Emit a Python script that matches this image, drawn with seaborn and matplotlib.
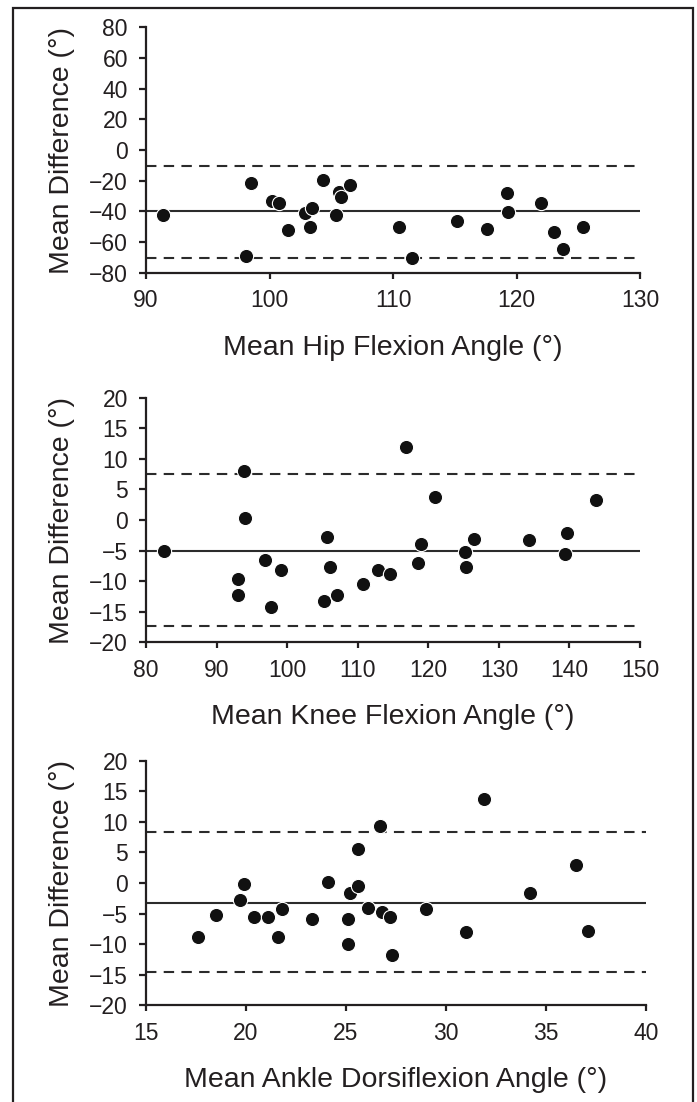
import matplotlib
matplotlib.use("Agg")
import matplotlib.pyplot as plt
from matplotlib.patches import Rectangle
import seaborn as sns
import pandas as pd

# --- Data ---
hip_mean = [91.4, 98.5, 98.1, 100.2, 100.8, 101.5, 102.9, 103.4, 103.3, 104.3, 105.4, 105.6,
            105.8, 106.5, 110.5, 111.5, 115.2, 117.6, 119.2, 119.3, 122.0, 123.0, 123.8, 125.4]
hip_diff = [-42.4, -21.7, -69.1, -33.0, -34.8, -52.2, -41.3, -38.0, -50.0, -19.8, -42.4, -27.2,
            -30.4, -22.8, -50.0, -70.2, -46.3, -51.3, -27.8, -40.7, -34.6, -53.3, -64.8, -50.2]
hip_lines = [-40.0, -10.4, -70.2]  # bias, upper LoA, lower LoA

knee_mean = [82.5, 93.0, 93.0, 93.9, 94.0, 96.9, 97.7, 99.1, 105.2, 105.7, 106.0, 107.0, 110.7,
             112.8, 114.5, 116.9, 118.5, 119.0, 121.0, 125.2, 125.3, 126.5, 134.3, 139.7, 139.4, 143.7]
knee_diff = [-5.1, -9.6, -12.3, 8.0, 0.3, -6.5, -14.3, -8.2, -13.3, -2.7, -7.7, -12.2, -10.5,
             -8.2, -8.9, 11.9, -7.0, -4.0, 3.8, -5.3, -7.7, -3.1, -3.2, -2.2, -5.6, 3.3]
knee_lines = [-5.0, 7.5, -17.4]

ankle_mean = [17.6, 18.5, 19.7, 19.9, 20.4, 21.1, 21.6, 21.8, 23.3, 24.1, 25.1, 25.1, 25.2,
              25.6, 25.6, 26.1, 26.7, 26.8, 27.2, 27.3, 29.0, 31.0, 31.9, 34.2, 36.5, 37.1]
ankle_diff = [-8.9, -5.3, -2.8, -0.1, -5.5, -5.6, -8.8, -4.3, -5.8, 0.2, -5.8, -9.9, -1.7,
              5.5, -0.5, -4.1, 9.4, -4.8, -5.6, -11.8, -4.2, -8.0, 13.8, -1.6, 3.0, -7.9]
ankle_lines = [-3.2, 8.3, -14.6]

panels = [
    ("Mean Hip Flexion Angle (°)", hip_mean, hip_diff, hip_lines,
     (90, 130), range(90, 131, 10), (-80, 80), range(-80, 81, 20)),
    ("Mean Knee Flexion Angle (°)", knee_mean, knee_diff, knee_lines,
     (80, 150), range(80, 151, 10), (-20, 20), range(-20, 21, 5)),
    ("Mean Ankle Dorsiflexion Angle (°)", ankle_mean, ankle_diff, ankle_lines,
     (15, 40), range(15, 41, 5), (-20, 20), range(-20, 21, 5)),
]

# --- Style ---
sns.set_style("ticks")
dark = "#231f20"
plt.rcParams["font.family"] = ["Liberation Sans", "DejaVu Sans"]
plt.rcParams.update({
    "axes.edgecolor": dark,
    "axes.linewidth": 1.6,
    "xtick.color": dark,
    "ytick.color": dark,
    "xtick.major.width": 1.6,
    "ytick.major.width": 1.6,
    "xtick.major.size": 4.5,
    "ytick.major.size": 5,
    "xtick.major.pad": 7.5,
    "ytick.major.pad": 8,
    "xtick.direction": "out",
    "ytick.direction": "out",
    "xtick.labelsize": 16.5,
    "ytick.labelsize": 16.5,
    "text.color": dark,
    "axes.labelcolor": dark,
})

fig = plt.figure(figsize=(6.97, 11.02), dpi=100)

# axes boxes in figure fractions [left, bottom, width, height]
boxes = [
    [0.2095, 0.7525, 0.7088, 0.2227],
    [0.2095, 0.4171, 0.7088, 0.2220],
    [0.2095, 0.0877, 0.7174, 0.2220],
]

for box, (xlab, xs, ys, lines, xlim, xt, ylim, yt) in zip(boxes, panels):
    ax = fig.add_axes(box)
    df = pd.DataFrame({"mean": xs, "diff": ys})
    bias, upper, lower = lines
    ax.axhline(bias, color="#2b2b2b", lw=1.5, zorder=1)
    ax.axhline(upper, color="#2b2b2b", lw=1.5, ls=(0, (5, 3.5)), zorder=1)
    ax.axhline(lower, color="#2b2b2b", lw=1.5, ls=(0, (5, 3.5)), zorder=1)
    sns.scatterplot(data=df, x="mean", y="diff", ax=ax, color="#111111",
                    s=105, edgecolor="white", linewidth=0.8, zorder=3, legend=False)
    ax.set_xlim(*xlim)
    ax.set_ylim(*ylim)
    ax.set_xticks(list(xt))
    ax.set_yticks(list(yt))
    ax.set_xlabel(xlab, fontsize=20.5, labelpad=16)
    ax.set_ylabel("Mean Difference (°)", fontsize=20.5, labelpad=10)
    for sp in ["top", "right"]:
        ax.spines[sp].set_visible(False)
    ax.set_facecolor("white")

# outer frame around the whole figure
fig.add_artist(Rectangle((13 / 697, -0.02), 680 / 697, 1 - 8 / 1102 + 0.02,
                         transform=fig.transFigure, fill=False,
                         edgecolor=dark, linewidth=1.6))

fig.savefig("out.png", dpi=100, facecolor="white")
